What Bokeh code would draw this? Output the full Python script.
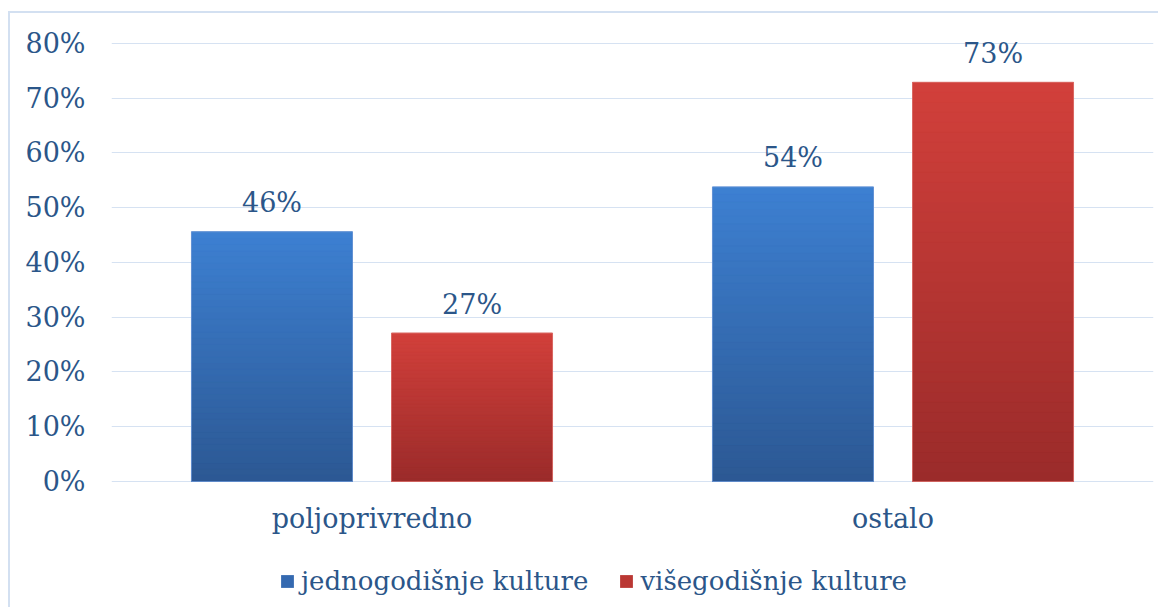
from bokeh.plotting import figure
from bokeh.models import (ColumnDataSource, FactorRange, Range1d, Legend, LegendItem,
                          FixedTicker)
from bokeh.transform import dodge
from bokeh.core.properties import value
from bokeh.embed import file_html
from bokeh.resources import INLINE

categories = ["poljoprivredno", "ostalo"]
series_names = ["jednogodišnje kulture", "višegodišnje kulture"]
jednogodisnje = [45.6, 53.8]
visegodisnje = [27.1, 72.9]
jedno_labels = ["46%", "54%"]
vise_labels = ["27%", "73%"]
y_ticks = [0, 10, 20, 30, 40, 50, 60, 70, 80]

FONT = "DejaVu Serif"
FS = "27px"
TXT = "#2B5689"
BLUE = "#3469B0"
RED = "#BA3733"
BLUE_TOP, BLUE_BOT = (61, 128, 210), (44, 88, 147)
RED_TOP, RED_BOT = (210, 64, 59), (154, 43, 42)
GRID = "#D6E2F2"

src = ColumnDataSource(dict(cat=categories, a=jednogodisnje, b=visegodisnje,
                            la=jedno_labels, lb=vise_labels))

# frame extends below 0 (category labels, legend) and a bit above 80% (value labels)
p = figure(x_range=FactorRange(*categories, range_padding=0),
           y_range=Range1d(-22.47, 84.93),
           width=1150, height=596,
           output_backend="svg", toolbar_location=None,
           min_border_left=101, min_border_right=7,
           min_border_top=3, min_border_bottom=5)
p.styles = {"border-left": "2px solid #D3E0F1", "border-top": "2px solid #D3E0F1",
            "margin-top": "11px", "margin-left": "8px"}
p.outline_line_color = None
p.background_fill_color = "white"
p.border_fill_color = "white"

OFF = 0.192
W = 0.309
N = 40


def shade(c0, c1, t):
    return "#%02x%02x%02x" % tuple(round(a + (b - a) * t) for a, b in zip(c0, c1))


def gradient_source(vals, c_bot, c_top):
    cats, bots, tops, cols = [], [], [], []
    for c, v in zip(categories, vals):
        for i in range(N):
            cats.append(c)
            bots.append(v * i / N)
            tops.append(v * (i + 1) / N)
            cols.append(shade(c_bot, c_top, (i + 0.5) / N))
    return ColumnDataSource(dict(cat=cats, bottom=bots, top=tops, color=cols))


renderers = []
for col, off, fill, line, (ct, cb) in (("a", -OFF, BLUE, "#6A96D6", (BLUE_TOP, BLUE_BOT)),
                                        ("b", OFF, RED, "#DC6E6A", (RED_TOP, RED_BOT))):
    base = p.vbar(x=dodge("cat", off, range=p.x_range), top=col, width=W, source=src,
                  fill_color=fill, line_color=None)
    p.vbar(x=dodge("cat", off, range=p.x_range), bottom="bottom", top="top", width=W,
           source=gradient_source(src.data[col], cb, ct),
           fill_color="color", line_color="color", line_width=0.6)
    p.vbar(x=dodge("cat", off, range=p.x_range), top=col, width=W, source=src,
           fill_color=None, line_color=line, line_width=0.8)
    renderers.append(base)

for col, lab, off in (("a", "la", -OFF), ("b", "lb", OFF)):
    p.text(x=dodge("cat", off, range=p.x_range), y=col, text=lab, source=src,
           text_font=value(FONT), text_font_size=FS, text_color=TXT,
           text_align="center", text_baseline="alphabetic", y_offset=-29)

p.yaxis.ticker = FixedTicker(ticks=y_ticks)
p.yaxis.major_label_overrides = {t: f"{t}%" for t in y_ticks}
p.xaxis.fixed_location = 0
for ax in (p.xaxis, p.yaxis):
    ax.axis_line_color = None
    ax.major_tick_line_color = None
    ax.minor_tick_line_color = None
    ax.major_label_text_font = FONT
    ax.major_label_text_font_size = FS
    ax.major_label_text_color = TXT
p.yaxis.major_label_standoff = 20
p.xaxis.major_label_standoff = 16

p.xgrid.grid_line_color = None
p.ygrid.grid_line_color = GRID
p.ygrid.grid_line_width = 1.2
p.ygrid.ticker = FixedTicker(ticks=y_ticks)

legend = Legend(items=[LegendItem(label=series_names[0], renderers=[renderers[0]]),
                       LegendItem(label=series_names[1], renderers=[renderers[1]])],
                orientation="horizontal", location=(168, 8),
                glyph_width=16, glyph_height=16, label_standoff=6, spacing=30,
                padding=0, margin=0, border_line_color=None,
                background_fill_alpha=0,
                label_text_font=FONT, label_text_font_size="26px",
                label_text_color=TXT)
p.add_layout(legend, "center")

open("out.html", "w").write(file_html(p, INLINE))
